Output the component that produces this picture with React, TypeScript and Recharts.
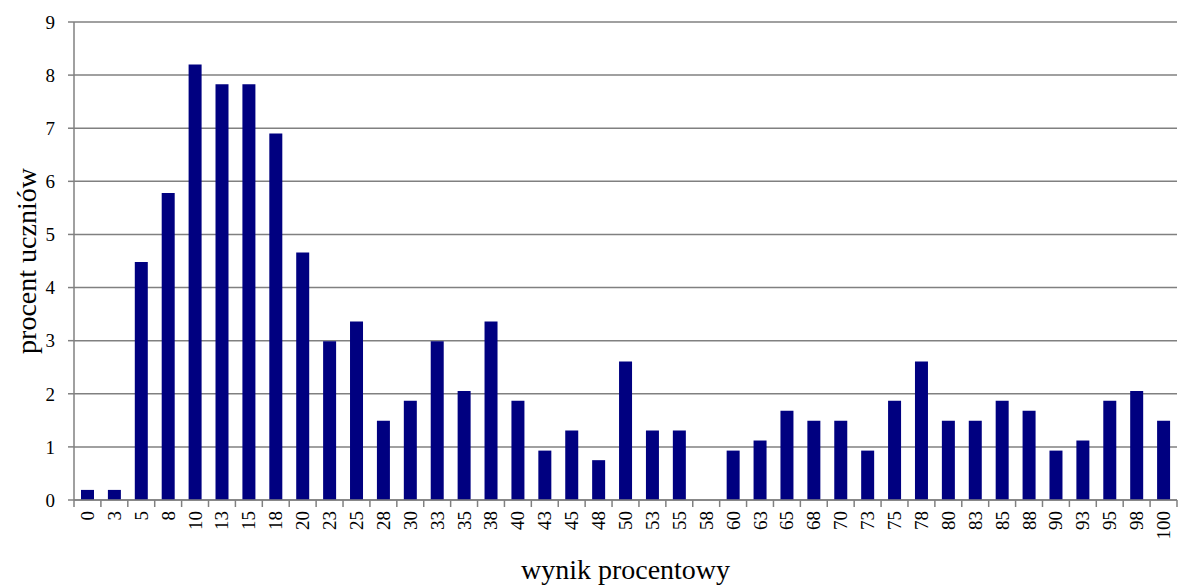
import { BarChart, Bar, XAxis, YAxis, CartesianGrid, Label } from "recharts";

const scores = [
  "0", "3", "5", "8", "10", "13", "15", "18", "20", "23", "25", "28", "30", "33", "35", "38", "40", "43", "45", "48",
  "50", "53", "55", "58", "60", "63", "65", "68", "70", "73", "75", "78", "80", "83", "85", "88", "90", "93", "95", "98", "100",
];
const percents = [
  0.19, 0.19, 4.48, 5.78, 8.2, 7.83, 7.83, 6.9, 4.66, 2.99, 3.36, 1.49, 1.87, 2.99, 2.05, 3.36, 1.87, 0.93, 1.31, 0.75,
  2.61, 1.31, 1.31, 0, 0.93, 1.12, 1.68, 1.49, 1.49, 0.93, 1.87, 2.61, 1.49, 1.49, 1.87, 1.68, 0.93, 1.12, 1.87, 2.05, 1.49,
];
const yTicks = [0, 1, 2, 3, 4, 5, 6, 7, 8, 9];

const data = scores.map((s, i) => ({ score: s, pct: percents[i] }));

const FONT = "Liberation Serif, DejaVu Serif, serif";
const W = 1179;
const H = 585;
const LEFT = 74;
const RIGHT = 2;
const band = (W - LEFT - RIGHT) / scores.length;

// tick label rotated, tick mark drawn at the band boundary like Excel does
const ScoreTick = ({ x, y, payload, index }: any) => {
  const axisY = y - 8;
  const ty = y + 3;
  return (
    <g>
      <line x1={x - band / 2} x2={x - band / 2} y1={axisY} y2={axisY + 7} stroke="#808080" strokeWidth={1.5} />
      {index === scores.length - 1 && (
        <line x1={x + band / 2} x2={x + band / 2} y1={axisY} y2={axisY + 7} stroke="#808080" strokeWidth={1.5} />
      )}
      <text
        x={x}
        y={ty}
        transform={`rotate(-90, ${x}, ${ty})`}
        textAnchor="end"
        dominantBaseline="central"
        fill="#000"
        style={{ fontSize: 19, fontFamily: FONT }}
      >
        {payload.value}
      </text>
    </g>
  );
};

export default function App() {
  return (
    <div style={{ position: "absolute", left: 0, top: 0, background: "#fff", fontFamily: FONT }}>
      <BarChart width={W} height={H} data={data} margin={{ top: 22, right: RIGHT, left: 0, bottom: 0 }} barCategoryGap="26%" style={{ fontFamily: FONT }}>
        <CartesianGrid vertical={false} stroke="#808080" strokeWidth={1.5} />
        <XAxis
          dataKey="score"
          interval={0}
          height={85}
          tickLine={false}
          stroke="#808080"
          strokeWidth={1.5}
          tick={<ScoreTick />}
        >
          <Label value="wynik procentowy" position="insideBottom" offset={0} dy={-6} fill="#000" style={{ fontSize: 28, fontFamily: FONT }} />
        </XAxis>
        <YAxis
          domain={[0, 9]}
          ticks={yTicks}
          interval={0}
          width={LEFT}
          tickSize={6}
          tickMargin={13}
          stroke="#808080"
          strokeWidth={1.5}
          tick={{ fill: "#000", fontSize: 19, fontFamily: FONT }}
        >
          <Label value="procent uczniów" angle={-90} position="insideLeft" offset={0} dx={26} fill="#000" style={{ fontSize: 28, fontFamily: FONT, textAnchor: "middle" }} />
        </YAxis>
        <Bar dataKey="pct" fill="#000080" isAnimationActive={false} />
      </BarChart>
    </div>
  );
}
